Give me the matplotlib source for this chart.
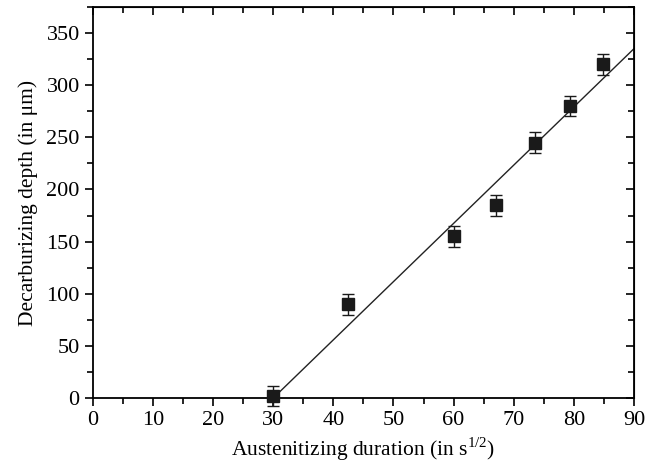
import matplotlib
matplotlib.use("Agg")
import matplotlib.pyplot as plt
from matplotlib.ticker import MultipleLocator

plt.rcParams['font.family'] = ['Liberation Serif', 'DejaVu Serif']
plt.rcParams['mathtext.fontset'] = 'custom'
plt.rcParams['mathtext.rm'] = 'Liberation Serif'

duration = [30.0, 42.4, 60.0, 67.1, 73.5, 79.4, 84.9]
depth = [2, 90, 155, 185, 245, 280, 320]
err = [10, 10, 10, 10, 10, 10, 10]
fit_x = [30, 90]
fit_y = [0, 335]

fig = plt.figure(figsize=(6.59, 4.65), dpi=100)
ax = fig.add_axes([0.141, 0.144, 0.821, 0.841])

ax.plot(fit_x, fit_y, color='#222222', lw=1.0, zorder=2)
ax.errorbar(duration, depth, yerr=err, fmt='s', color='#1a1a1a', ms=9,
            ecolor='#1a1a1a', elinewidth=1.0, capsize=4, capthick=1.0,
            clip_on=False, zorder=3)

ax.set_xlim(0, 90)
ax.set_ylim(0, 375)
ax.xaxis.set_major_locator(MultipleLocator(10))
ax.xaxis.set_minor_locator(MultipleLocator(5))
ax.yaxis.set_major_locator(MultipleLocator(50))
ax.yaxis.set_minor_locator(MultipleLocator(25))

ax.tick_params(which='both', direction='out', top=False, right=False, labelsize=16, width=1.2)
ax.tick_params(which='major', length=6)
ax.tick_params(which='minor', length=4)

secx = ax.secondary_xaxis('top')
secx.xaxis.set_major_locator(MultipleLocator(10))
secx.xaxis.set_minor_locator(MultipleLocator(5))
secx.tick_params(which='both', direction='in', labeltop=False, width=1.2)
secx.tick_params(which='major', length=6)
secx.tick_params(which='minor', length=4)
secy = ax.secondary_yaxis('right')
secy.yaxis.set_major_locator(MultipleLocator(50))
secy.yaxis.set_minor_locator(MultipleLocator(25))
secy.tick_params(which='both', direction='in', labelright=False, width=1.2)
secy.tick_params(which='major', length=6)
secy.tick_params(which='minor', length=4)

for s in ax.spines.values():
    s.set_linewidth(1.3)

ax.set_xlabel(r'Austenitizing duration (in s$^{1/2}$)', fontsize=15.5, labelpad=4)
ax.set_ylabel('Decarburizing depth (in μm)', fontsize=15.5, labelpad=6)

fig.savefig('out.png', dpi=100)
